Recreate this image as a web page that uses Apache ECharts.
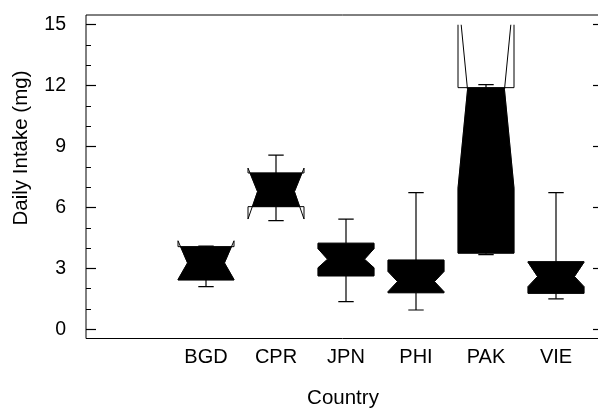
<!DOCTYPE html>
<html>
<head>
<meta charset="utf-8">
<script src="https://cdn.jsdelivr.net/npm/echarts@6.0.0/dist/echarts.min.js"></script>
<style>
  html, body { margin: 0; padding: 0; background: #fff; }
  #chart { width: 598px; height: 410px; }
</style>
</head>
<body>
<div id="chart"></div>
<script>
// data (mg)
const countries   = ['BGD', 'CPR', 'JPN', 'PHI', 'PAK', 'VIE'];
const whiskerLow  = [2.10, 5.35, 1.36, 0.95, 3.68, 1.50];
const q1          = [2.43, 6.04, 2.63, 1.80, 3.75, 1.77];
const notchLow    = [2.45, 5.43, 3.03, 1.85, 6.95, 2.10];
const median      = [3.27, 6.78, 3.45, 2.35, 11.80, 2.60];
const notchHigh   = [4.36, 7.94, 3.97, 2.85, 16.60, 3.30];
const q3          = [4.07, 7.70, 4.24, 3.41, 11.90, 3.33];
const whiskerHigh = [4.10, 8.58, 5.43, 6.73, 12.05, 6.73];

const yMin = 0, yMax = 15, yStep = 3;
const font = 'Liberation Sans';

const boxData = countries.map(function (c, i) {
  return [i, whiskerLow[i], q1[i], notchLow[i], median[i], notchHigh[i], q3[i], whiskerHigh[i]];
});

function renderItem(params, api) {
  const i = api.value(0);
  const lo = api.value(1), a = api.value(2), nlo = api.value(3), md = api.value(4),
        nhi = api.value(5), b = api.value(6), hi = api.value(7);
  const cx = api.coord([i, 0])[0];
  const band = api.size([1, 0])[0];
  const half = band * 0.4, narrow = half * 0.66, cap = band * 0.11;
  const y = function (v) { return api.coord([i, v])[1]; };
  // half width of the notch at value v, going from the median towards end
  const wAt = function (v, end) {
    let t = (v - md) / (end - md);
    t = Math.min(1, Math.max(0, t));
    return narrow + (half - narrow) * t;
  };

  // filled part, cut to the box
  const side = [];
  if (nlo > a) { side.push([cx - half, y(a)], [cx - half, y(nlo)]); }
  else { side.push([cx - wAt(a, nlo), y(a)]); }
  side.push([cx - narrow, y(md)]);
  if (nhi < b) { side.push([cx - half, y(nhi)], [cx - half, y(b)]); }
  else { side.push([cx - wAt(b, nhi), y(b)]); }
  const fillPts = side.concat(side.slice().reverse().map(function (p) { return [2 * cx - p[0], p[1]]; }));

  // outline of the full notch
  const outline = [
    [cx - half, y(a)], [cx - half, y(nlo)], [cx - narrow, y(md)], [cx - half, y(nhi)], [cx - half, y(b)],
    [cx + half, y(b)], [cx + half, y(nhi)], [cx + narrow, y(md)], [cx + half, y(nlo)], [cx + half, y(a)]
  ];

  const ln = { stroke: '#000', lineWidth: 1.2 };
  return {
    type: 'group',
    children: [
      { type: 'line', shape: { x1: cx, y1: y(b), x2: cx, y2: y(hi) }, style: ln },
      { type: 'line', shape: { x1: cx - cap, y1: y(hi), x2: cx + cap, y2: y(hi) }, style: ln },
      { type: 'line', shape: { x1: cx, y1: y(a), x2: cx, y2: y(lo) }, style: ln },
      { type: 'line', shape: { x1: cx - cap, y1: y(lo), x2: cx + cap, y2: y(lo) }, style: ln },
      { type: 'polygon', shape: { points: fillPts }, style: { fill: '#000', stroke: '#000', lineWidth: 0.5 } },
      { type: 'polygon', shape: { points: outline }, style: { fill: null, stroke: '#000', lineWidth: 1 } }
    ]
  };
}

const myChart = echarts.init(document.getElementById('chart'));
myChart.setOption({
  animation: false,
  textStyle: { fontFamily: font },
  grid: [
    // frame
    { left: 86, top: 15, right: -2, bottom: 71.5, outerBoundsMode: 'none', containLabel: false,
      show: true, borderColor: '#000', borderWidth: 1, backgroundColor: 'transparent' },
    // boxes
    { left: 171, top: 24.7, right: 7, bottom: 80.7, outerBoundsMode: 'none', containLabel: false }
  ],
  xAxis: [
    {
      gridIndex: 0, type: 'value', min: 0, max: 1,
      axisLine: { show: false }, axisTick: { show: false }, axisLabel: { show: false }, splitLine: { show: false },
      name: 'Country', nameLocation: 'middle', nameGap: 49,
      nameTextStyle: { fontFamily: font, fontSize: 20.5, color: '#000' }
    },
    {
      gridIndex: 1, type: 'category', data: countries,
      axisLine: { show: false }, axisTick: { show: false },
      axisLabel: { fontFamily: font, fontSize: 20, color: '#000', margin: 18 }
    }
  ],
  yAxis: [
    { gridIndex: 0, type: 'value', show: false },
    {
      gridIndex: 1, type: 'value', position: 'left', offset: 85,
      min: yMin, max: yMax, interval: yStep,
      axisLine: { show: false },
      axisTick: { show: true, inside: true, length: 10, lineStyle: { color: '#000', width: 1.2 } },
      minorTick: { show: true, splitNumber: 3, length: 5, lineStyle: { color: '#000', width: 1 } },
      axisLabel: { fontFamily: font, fontSize: 19.5, color: '#000', margin: 20 },
      splitLine: { show: false }, minorSplitLine: { show: false }
    },
    {
      gridIndex: 1, type: 'value', position: 'right', offset: 9,
      min: yMin, max: yMax, interval: yStep,
      axisLine: { show: false },
      axisTick: { show: true, inside: true, length: 7, lineStyle: { color: '#000', width: 1.2 } },
      axisLabel: { show: false },
      splitLine: { show: false }
    }
  ],
  graphic: [
    {
      type: 'text', x: 21, y: 148, rotation: Math.PI / 2,
      style: { text: 'Daily Intake (mg)', fill: '#000', font: '20.5px "Liberation Sans"', align: 'center', verticalAlign: 'middle' }
    }
  ],
  series: [
    {
      type: 'custom',
      xAxisIndex: 1, yAxisIndex: 1,
      clip: true,
      renderItem: renderItem,
      encode: { x: 0, y: [1, 2, 3, 4, 5, 6, 7] },
      data: boxData
    }
  ]
});
window.addEventListener('resize', function () {
  setTimeout(function () { myChart.resize(); }, 500);
});
</script>
</body>
</html>
